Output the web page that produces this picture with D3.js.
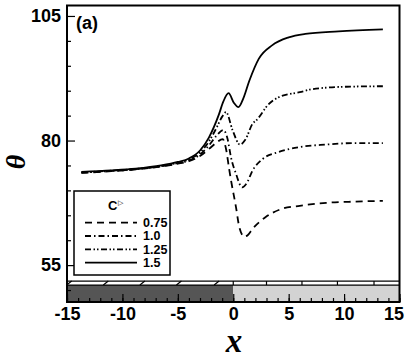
<!DOCTYPE html>
<html>
<head>
<meta charset="utf-8">
<script src="https://cdn.jsdelivr.net/npm/d3@7"></script>
<style>
  body { margin: 0; background: #fff; }
  svg { display: block; }
  .axis text { font-family: "Liberation Sans", Arial, sans-serif; font-weight: bold; font-size: 18px; fill: #000; }
  .axis path { display: none; }
  .axis line { stroke: #000; stroke-width: 1.2; }
</style>
</head>
<body>
<script>
// tick values
var xTicks = [-15, -10, -5, 0, 5, 10, 15];
var xMinor = d3.range(-15, 16, 1);
var yTicks = [55, 80, 105];
var yMinor = [50, 60, 65, 70, 75, 85, 90, 95, 100];

// curves: [x, theta]
var c075 = [[-13.7,73.5],[-11,73.85],[-8.8,74.2],[-6.5,74.8],[-5,75.35],[-4,75.85],[-3,76.9],[-2.2,78.3],[-1.5,79.6],[-0.95,80.3],[-0.65,78.3],[-0.35,74.0],[-0.2,72.0],[0.25,66.6],[0.55,62.6],[1.0,60.7],[1.3,61.0],[1.75,62.3],[2.9,64.6],[4.4,66.3],[6.0,66.9],[8.4,67.5],[11,67.75],[13.5,67.9]];
var c100 = [[-13.7,73.55],[-11,73.9],[-8.8,74.25],[-6.5,74.85],[-5,75.45],[-4,76.0],[-3,77.2],[-2.2,79.0],[-1.5,81.0],[-0.9,82.1],[-0.5,80.2],[-0.2,76.6],[0.25,73.3],[0.8,70.6],[1.2,71.4],[1.75,74.0],[2.65,76.3],[4.1,77.7],[6.0,78.7],[8.4,79.2],[11,79.5],[13.5,79.5]];
var c125 = [[-13.7,73.6],[-11,73.95],[-8.8,74.3],[-6.5,74.9],[-5,75.55],[-4,76.2],[-3,77.6],[-2.2,79.8],[-1.5,82.6],[-1.0,84.8],[-0.65,85.7],[-0.05,82.0],[0.6,79.2],[1.1,80.2],[1.75,83.4],[2.1,84.1],[3.2,87.3],[4.1,88.7],[6.0,89.7],[7.1,90.3],[10.2,90.8],[13.5,90.9]];
var c150 = [[-13.7,73.7],[-11,74.0],[-8.8,74.35],[-6.5,75.0],[-5,75.7],[-4,76.4],[-3,78.0],[-2.2,80.6],[-1.3,85.2],[-0.9,87.8],[-0.42,89.5],[0.05,87.6],[0.47,86.7],[0.9,88.4],[1.45,92.0],[2.3,96.4],[3.5,99.1],[5.0,100.7],[6.5,101.4],[9.5,101.9],[13.5,102.3]];

var seriesData = [c075, c100, c125, c150];
var seriesLabels = ["0.75", "1.0", "1.25", "1.5"];
var seriesDash = ["7,5", "6,3,1.5,3", "6,2.5,1.5,2,1.5,2.5", null];

// bottom strip marks
var hatchLeft = [-14.8, -11.5, -8.2, -4.9, -1.5];
var hatchRight = [0, 3.0, 6.2, 9.4, 12.7];

var W = 407, H = 358;
var svg = d3.select("body").append("svg").attr("width", W).attr("height", H);

var x = d3.scaleLinear().domain([-15, 15]).range([67, 399.5]);
var y = d3.scaleLinear().domain([47.6, 107.1]).range([302, 5.5]);

var stripTop = 51.8, stripBot = 51.0;

// gray bar
svg.append("rect").attr("x", x(-15)).attr("y", y(stripBot))
  .attr("width", x(0) - x(-15)).attr("height", y(47.6) - y(stripBot)).attr("fill", "#555");
svg.append("rect").attr("x", x(0)).attr("y", y(stripBot))
  .attr("width", x(15) - x(0)).attr("height", y(47.6) - y(stripBot)).attr("fill", "#d3d3d3");

// strip lines
[stripTop, stripBot].forEach(function(v) {
  svg.append("line").attr("x1", x(-15)).attr("x2", x(15))
    .attr("y1", y(v)).attr("y2", y(v)).attr("stroke", "#000").attr("stroke-width", 1.3);
});
svg.selectAll(".hl").data(hatchLeft).enter().append("line")
  .attr("x1", function(d) { return x(d) - 2.5; }).attr("x2", function(d) { return x(d) + 2.5; })
  .attr("y1", y(stripBot)).attr("y2", y(stripTop))
  .attr("stroke", "#000").attr("stroke-width", 1.2);
svg.selectAll(".hr").data(hatchRight).enter().append("line")
  .attr("x1", function(d) { return x(d); }).attr("x2", function(d) { return x(d); })
  .attr("y1", y(stripBot)).attr("y2", y(stripTop))
  .attr("stroke", "#000").attr("stroke-width", 1.2);

var plainFmt = function(d) { return String(d); };

// axes
svg.append("g").attr("class", "axis").attr("transform", "translate(0," + y(47.6) + ")")
  .call(d3.axisBottom(x).tickValues(xMinor).tickSize(-4).tickFormat(""));
var xa = svg.append("g").attr("class", "axis").attr("transform", "translate(0," + y(47.6) + ")")
  .call(d3.axisBottom(x).tickValues(xTicks).tickSize(-8).tickPadding(5).tickFormat(plainFmt));
xa.selectAll("text").filter(function(d) { return d === 15; }).attr("dx", "-6");

svg.append("g").attr("class", "axis").attr("transform", "translate(" + x(-15) + ",0)")
  .call(d3.axisLeft(y).tickValues(yMinor).tickSize(-4).tickFormat(""));
svg.append("g").attr("class", "axis").attr("transform", "translate(" + x(-15) + ",0)")
  .call(d3.axisLeft(y).tickValues(yTicks).tickSize(-8).tickPadding(6).tickFormat(plainFmt));

// curves
var line = d3.line().x(function(d) { return x(d[0]); }).y(function(d) { return y(d[1]); })
  .curve(d3.curveMonotoneX);
seriesData.forEach(function(s, i) {
  svg.append("path").datum(s).attr("d", line)
    .attr("fill", "none").attr("stroke", "#000").attr("stroke-width", 1.8)
    .attr("stroke-dasharray", seriesDash[i]);
});

// frame
svg.append("rect").attr("x", x(-15)).attr("y", y(107.1))
  .attr("width", x(15) - x(-15)).attr("height", y(47.6) - y(107.1))
  .attr("fill", "none").attr("stroke", "#000").attr("stroke-width", 2);

// panel tag
svg.append("text").attr("x", 76).attr("y", 29)
  .style("font-family", "Liberation Sans, Arial, sans-serif").style("font-weight", "bold")
  .style("font-size", "18px").text("(a)");

// legend
var lg = svg.append("g");
lg.append("rect").attr("x", 74).attr("y", 191).attr("width", 96).attr("height", 84)
  .attr("fill", "#fff").attr("stroke", "#000").attr("stroke-width", 1.5);
lg.append("text").attr("x", 108).attr("y", 210)
  .style("font-family", "Liberation Sans, Arial, sans-serif").style("font-weight", "bold")
  .style("font-size", "13px").text("C");
lg.append("text").attr("x", 118).attr("y", 205)
  .style("font-family", "DejaVu Sans, sans-serif").style("font-size", "7px").text("\u25B7");
seriesLabels.forEach(function(lab, i) {
  var yy = 222.7 + i * 13.3;
  lg.append("line").attr("x1", 85).attr("x2", 137).attr("y1", yy).attr("y2", yy)
    .attr("stroke", "#000").attr("stroke-width", 1.8).attr("stroke-dasharray", seriesDash[i]);
  lg.append("text").attr("x", 143).attr("y", yy + 4.3)
    .style("font-family", "Liberation Sans, Arial, sans-serif").style("font-weight", "bold")
    .style("font-size", "12.5px").text(lab);
});

// axis titles
svg.append("text").attr("transform", "translate(25,162) rotate(-90)")
  .attr("text-anchor", "middle")
  .style("font-family", "Liberation Serif, Times New Roman, serif").style("font-weight", "bold")
  .style("font-style", "italic").style("font-size", "28px").text("\u03B8");
svg.append("text").attr("x", 234).attr("y", 352).attr("text-anchor", "middle")
  .style("font-family", "Liberation Serif, Times New Roman, serif").style("font-weight", "bold")
  .style("font-style", "italic").style("font-size", "33px").text("x");
</script>
</body>
</html>
